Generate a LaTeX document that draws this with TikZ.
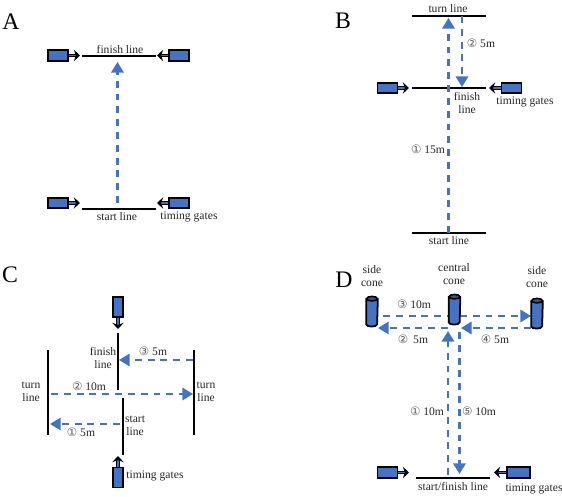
\documentclass[tikz,border=0pt]{standalone}
\usepackage{fontspec}
\setmainfont{Liberation Serif}
\newfontfamily\circfont{DejaVu Sans}
\usetikzlibrary{arrows.meta}
\definecolor{gateblue}{HTML}{4472C4}
\newcommand{\circnum}[1]{{\circfont\color{black!65}#1}}
% outline of a cone, drawn round its node
\newcommand{\conerim}[1]{
    \draw[conebody] (#1.north west) -- (#1.south west) arc[x radius=0.11cm, y radius=0.045cm, start angle=180, end angle=360] -- (#1.north east);
    \draw[conecap] (#1.north) ellipse[x radius=0.11cm, y radius=0.045cm];
}
\begin{document}
\begin{tikzpicture}[
    x=0.02cm, y=-0.02cm,
    panel/.style={font=\fontsize{13.5}{15}\selectfont, inner sep=0pt},
    lbl/.style={font=\fontsize{6.6}{7.6}\selectfont, align=center, inner sep=0pt, text=black!85},
    gatebox/.style={rectangle, draw=black, line width=1pt, fill=gateblue, inner sep=0pt},
    hgate/.style={gatebox, minimum width=0.4cm, minimum height=0.21cm},
    vgate/.style={gatebox, minimum width=0.21cm, minimum height=0.4cm},
    beam/.style={draw=black, line width=0.7pt, double=gateblue, double distance=0.7pt, -{Stealth[length=3.5pt,width=6.5pt,black]}},
    course/.style={line width=1pt, black},
    run/.style={draw=gateblue, line width=1.2pt, dash pattern=on 3.9pt off 3.4pt, -{Triangle[length=6pt,width=7pt,fill=gateblue]}},
    cone/.style={rectangle, inner sep=0pt, minimum width=0.22cm, minimum height=0.5cm},
    conebody/.style={draw=black, line width=1pt, fill=gateblue},
    conecap/.style={draw=black, line width=0.9pt, fill=gateblue!75!black}
]
\useasboundingbox (0,0) rectangle (562,497);

% Test A
\node[panel] (lblA) at (11,22) {A};
\node[hgate] (gateA1) at (58,55.5) {};
\node[hgate] (gateA2) at (179,55.5) {};
\node[hgate] (gateA3) at (58,203) {};
\node[hgate] (gateA4) at (179,203) {};
\coordinate (finishA1) at (82,56);
\coordinate (finishA2) at (156,56);
\coordinate (startA1) at (82,209);
\coordinate (startA2) at (156,209);
\coordinate (fromA) at (117.5,203);
\coordinate (toA) at (117.5,62);
\coordinate (tipA1) at (80,55.5);
\coordinate (tipA2) at (157,55.5);
\coordinate (tipA3) at (80,203);
\coordinate (tipA4) at (157,203);
\draw[course] (finishA1) -- (finishA2);
\draw[course] (startA1) -- (startA2);
\draw[beam] (gateA1) -- (tipA1);
\draw[beam] (gateA2) -- (tipA2);
\draw[beam] (gateA3) -- (tipA3);
\draw[beam] (gateA4) -- (tipA4);
\draw[run] (fromA) -- (toA);
\node[lbl] (finA) at (120,49) {finish line};
\node[lbl] (staA) at (117,217) {start line};
\node[lbl] (timA) at (189,217) {timing gates};

% Test B
\node[panel] (lblB) at (343,21) {B};
\node[hgate] (gateB1) at (387.5,88) {};
\node[hgate] (gateB2) at (511.5,88) {};
\coordinate (turnB1) at (412,16);
\coordinate (turnB2) at (486,16);
\coordinate (finishB1) at (412,88);
\coordinate (finishB2) at (486,88);
\coordinate (startB1) at (412,233);
\coordinate (startB2) at (486,233);
\coordinate (tipB1) at (409,88);
\coordinate (tipB2) at (489,88);
\coordinate (fromB1) at (448.5,233);
\coordinate (toB1) at (448.5,18);
\coordinate (fromB2) at (462,16);
\coordinate (toB2) at (462,87);
\draw[course] (turnB1) -- (turnB2);
\draw[course] (finishB1) -- (finishB2);
\draw[course] (startB1) -- (startB2);
\draw[beam] (gateB1) -- (tipB1);
\draw[beam] (gateB2) -- (tipB2);
\draw[run] (fromB1) -- (toB1);
\draw[run] (fromB2) -- (toB2);
\node[lbl] (turB) at (448,9) {turn line};
\node[lbl] (finB) at (467,103) {finish\\line};
\node[lbl] (timB) at (525,102) {timing gates};
\node[lbl] (staB) at (449,241) {start line};
\node[lbl] (oneB) at (428,149) {\circnum{①} 15m};
\node[lbl] (twoB) at (481,43) {\circnum{②} 5m};

% Test C
\node[panel] (lblC) at (10,275) {C};
\node[vgate] (gateC1) at (118,307) {};
\node[vgate] (gateC2) at (118,477.5) {};
\coordinate (finishC1) at (118,333);
\coordinate (finishC2) at (118,390);
\coordinate (startC1) at (123,398);
\coordinate (startC2) at (123,455);
\coordinate (turnC1) at (48,350);
\coordinate (turnC2) at (48,435);
\coordinate (turnC3) at (194,350);
\coordinate (turnC4) at (194,435);
\coordinate (tipC1) at (118,329);
\coordinate (tipC2) at (118,456);
\coordinate (fromC1) at (120,424);
\coordinate (toC1) at (50,424);
\coordinate (fromC2) at (51,394);
\coordinate (toC2) at (193,394);
\coordinate (fromC3) at (193,360);
\coordinate (toC3) at (119,360);
\draw[course] (finishC1) -- (finishC2);
\draw[course] (startC1) -- (startC2);
\draw[course] (turnC1) -- (turnC2);
\draw[course] (turnC3) -- (turnC4);
\draw[beam] (gateC1) -- (tipC1);
\draw[beam] (gateC2) -- (tipC2);
\draw[run] (fromC1) -- (toC1);
\draw[run] (fromC2) -- (toC2);
\draw[run] (fromC3) -- (toC3);
\node[lbl] (finC) at (103,358) {finish\\line};
\node[lbl] (staC) at (135,426) {start\\line};
\node[lbl] (turC1) at (31,392) {turn\\line};
\node[lbl] (turC2) at (206,392) {turn\\line};
\node[lbl] (timC) at (155,476) {timing gates};
\node[lbl] (oneC) at (81,432) {\circnum{①} 5m};
\node[lbl] (twoC) at (89,386) {\circnum{②} 10m};
\node[lbl] (thrC) at (153,351) {\circnum{③} 5m};

% Test D
\node[panel] (lblD) at (344,280) {D};
\node[cone] (coneD1) at (372,311.5) {};
\node[cone] (coneD2) at (454.5,309.5) {};
\node[cone] (coneD3) at (537,313.5) {};
\node[hgate] (gateD1) at (387.5,472.5) {};
\node[hgate, minimum width=0.46cm] (gateD2) at (518.5,472.5) {};
\coordinate (startD1) at (416,478);
\coordinate (startD2) at (490,478);
\coordinate (tipD1) at (409,472.5);
\coordinate (tipD2) at (494,472.5);
\coordinate (fromD1) at (448,475);
\coordinate (toD1) at (448,331);
\coordinate (fromD2) at (448,328);
\coordinate (toD2) at (378,328);
\coordinate (fromD3) at (383,316);
\coordinate (toD3) at (531,316);
\coordinate (fromD4) at (531,328);
\coordinate (toD4) at (461,328);
\coordinate (fromD5) at (459.5,332);
\coordinate (toD5) at (459.5,474);
\draw[course] (startD1) -- (startD2);
\draw[beam] (gateD1) -- (tipD1);
\draw[beam] (gateD2) -- (tipD2);
\draw[run] (fromD1) -- (toD1);
\draw[run] (fromD2) -- (toD2);
\draw[run] (fromD3) -- (toD3);
\draw[run] (fromD4) -- (toD4);
\draw[run] (fromD5) -- (toD5);
\conerim{coneD1}
\conerim{coneD2}
\conerim{coneD3}
\node[lbl] (sidD1) at (372,276) {side\\cone};
\node[lbl] (cenD) at (454,274) {central\\cone};
\node[lbl] (sidD2) at (537,277) {side\\cone};
\node[lbl] (staD) at (453,486) {start/finish line};
\node[lbl] (timD) at (534,489) {timing gates};
\node[lbl] (oneD) at (427,411) {\circnum{①} 10m};
\node[lbl] (twoD) at (413,339) {\circnum{②}\, 5m};
\node[lbl] (thrD) at (414,304) {\circnum{③} 10m};
\node[lbl] (fouD) at (495,339) {\circnum{④} 5m};
\node[lbl] (fivD) at (479,411) {\circnum{⑤} 10m};

\end{tikzpicture}
\end{document}
